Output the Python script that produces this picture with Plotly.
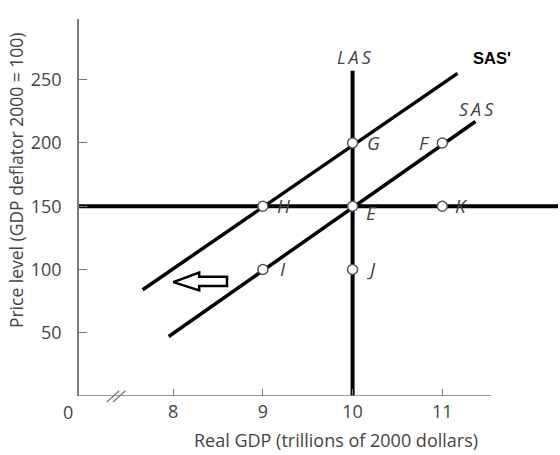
import plotly.graph_objects as go

# ---- data ----
point_names = ["G", "F", "H", "E", "K", "I", "J"]
point_gdp = [10, 11, 9, 10, 11, 9, 10]
point_price = [200, 200, 150, 150, 150, 100, 100]

las_gdp = [10, 10]
las_price = [0, 257]

sas_gdp = [7.95, 11.37]
sas_price = [47, 217]

sas2_gdp = [7.66, 11.17]
sas2_price = [84, 255]

horiz_gdp = [6.95, 12.29]
horiz_price = [150, 150]

arrow_gdp = [8.00, 8.29, 8.29, 8.60, 8.60, 8.29, 8.29, 8.00]
arrow_price = [90, 97.5, 94.2, 94.2, 86.9, 86.9, 83.5, 90]

x_ticks = [8, 9, 10, 11]
y_ticks = [50, 100, 150, 200, 250]

XR = [6.95, 12.29]
YR = [0, 298]

FONT = "Open Sans"
GRAY = "#444444"
AXC = "#7a7a7a"

fig = go.Figure()

line_style = dict(color="black", width=3.5)
fig.add_trace(go.Scatter(x=horiz_gdp, y=horiz_price, mode="lines", line=dict(color="black", width=4)))
fig.add_trace(go.Scatter(x=las_gdp, y=las_price, mode="lines", line=dict(color="black", width=4)))
fig.add_trace(go.Scatter(x=sas_gdp, y=sas_price, mode="lines", line=line_style))
fig.add_trace(go.Scatter(x=sas2_gdp, y=sas2_price, mode="lines", line=line_style))
fig.add_trace(go.Scatter(x=arrow_gdp, y=arrow_price, mode="lines", line=dict(color="black", width=2.5)))

# x-axis line (stops short of plot edge)
fig.add_trace(go.Scatter(x=[XR[0], 11.54], y=[0, 0], mode="lines", line=dict(color=AXC, width=1.5)))

# axis break marks
for x0 in [0.058, 0.071]:
    fig.add_shape(type="line", xref="paper", yref="paper", x0=x0, y0=-0.016, x1=x0 + 0.026, y1=0.014,
                  line=dict(color=AXC, width=1.3))

fig.add_trace(go.Scatter(x=point_gdp, y=point_price, mode="markers",
                         marker=dict(size=10, color="white", line=dict(color="#555555", width=1.5))))

label_dx = {"G": 0.23, "F": -0.2, "H": 0.23, "E": 0.21, "K": 0.21, "I": 0.22, "J": 0.21}
label_dy = {"G": 0, "F": 0, "H": 0, "E": -5, "K": 0, "I": 0, "J": 0}
ital = dict(family=FONT, size=19, color=GRAY, style="italic")
for n, gx, py in zip(point_names, point_gdp, point_price):
    fig.add_annotation(x=gx + label_dx[n], y=py + label_dy[n], text=n, showarrow=False,
                       font=ital, xanchor="center", yanchor="middle")

fig.add_annotation(x=10.02, y=268, text="L\u2009A\u2009S", showarrow=False,
                   font=dict(family=FONT, size=18, color=GRAY, style="italic"), yanchor="middle")
fig.add_annotation(x=11.38, y=227, text="S\u2009A\u2009S", showarrow=False,
                   font=dict(family=FONT, size=18, color=GRAY, style="italic"), yanchor="middle")
fig.add_annotation(x=11.55, y=267, text="<b>SAS'</b>", showarrow=False,
                   font=dict(family="Liberation Sans", size=16.5, color="black"), yanchor="middle")

# origin label
fig.add_annotation(x=-0.023, y=-0.042, xref="paper", yref="paper", text="0", showarrow=False,
                   font=dict(family=FONT, size=18, color=GRAY), xanchor="center", yanchor="middle")

# axis titles
fig.add_annotation(x=0.537, y=-0.117, xref="paper", yref="paper",
                   text="Real GDP (trillions of 2000 dollars)", showarrow=False,
                   font=dict(family=FONT, size=18, color=GRAY), yanchor="middle")
fig.add_annotation(x=-0.13, y=0.572, xref="paper", yref="paper", textangle=-90,
                   text="Price level (GDP deflator 2000 = 100)", showarrow=False,
                   font=dict(family=FONT, size=17.5, color=GRAY), xanchor="center", yanchor="middle")

fig.update_layout(
    width=560, height=455,
    margin=dict(l=79, r=2, t=19, b=59),
    paper_bgcolor="white", plot_bgcolor="white",
    showlegend=False,
    xaxis=dict(range=XR, tickvals=x_ticks, ticks="inside", ticklen=7, tickcolor=AXC, tickwidth=1.3,
               showgrid=False, zeroline=False, showline=False,
               tickfont=dict(family=FONT, size=18, color=GRAY), ticklabelstandoff=3),
    yaxis=dict(range=YR, tickvals=y_ticks, ticks="inside", ticklen=8, tickcolor=AXC, tickwidth=1.3,
               showgrid=False, zeroline=False, showline=True, linecolor=AXC, linewidth=1.5,
               tickfont=dict(family=FONT, size=18, color=GRAY), ticklabelstandoff=12),
)

fig.write_html("out.html")
